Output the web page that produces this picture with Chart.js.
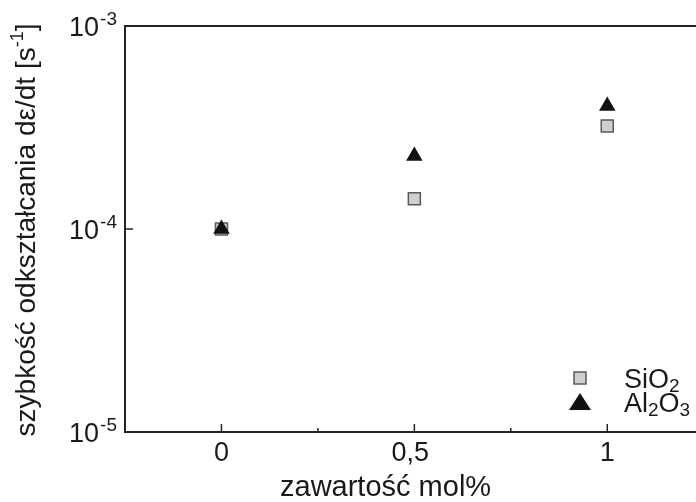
<!DOCTYPE html>
<html>
<head>
<meta charset="utf-8">
<script src="https://cdn.jsdelivr.net/npm/chart.js@4.4.1/dist/chart.umd.min.js"></script>
<style>
  html,body{margin:0;padding:0;background:#fff;overflow:hidden;}
  #wrap{width:696px;height:502px;position:relative;}
</style>
</head>
<body>
<div id="wrap"><canvas id="c" width="696" height="502"></canvas></div>
<script>
// ===== 資料 =====
const xVals = [0, 0.5, 1];
const sio2 = [1.0e-4, 1.41e-4, 3.22e-4];
const al2o3 = [1.0e-4, 2.29e-4, 4.04e-4];

const xTicks = [0, 0.5, 1];
const xTickLabels = ['0', '0,5', '1'];
const xMinor = [0.25, 0.75];
const yTicks = [1e-3, 1e-4, 1e-5];
const yTickExp = ['-3', '-4', '-5'];

const xTitle = 'zawartość mol%';
const yTitle = 'szybkość odkształcania dε/dt [s';
const seriesNames = [['SiO', '2'], ['Al', '2', 'O', '3']];

const FONT = '"Liberation Sans", Arial, sans-serif';
const INK = '#1a1a1a';

// ===== 座標軸與文字 =====
const axesPlugin = {
  id: 'axesPlugin',
  afterDraw(c) {
    const { ctx, chartArea: { left, right, top, bottom } } = c;
    const xs = c.scales.x, ys = c.scales.y;
    ctx.save();
    ctx.strokeStyle = '#222'; ctx.lineWidth = 2;
    ctx.beginPath();
    ctx.moveTo(right + 2, top); ctx.lineTo(left, top); ctx.lineTo(left, bottom); ctx.lineTo(right + 2, bottom);
    ctx.stroke();

    // x ticks (inward)
    ctx.lineWidth = 1.5;
    xTicks.forEach(v => { const px = xs.getPixelForValue(v); ctx.beginPath(); ctx.moveTo(px, bottom); ctx.lineTo(px, bottom - 8); ctx.stroke(); });
    xMinor.forEach(v => { const px = xs.getPixelForValue(v); ctx.beginPath(); ctx.moveTo(px, bottom); ctx.lineTo(px, bottom - 4); ctx.stroke(); });
    // y ticks (inward)
    yTicks.forEach(v => { const py = ys.getPixelForValue(v); ctx.beginPath(); ctx.moveTo(left, py); ctx.lineTo(left + 8, py); ctx.stroke(); });

    ctx.fillStyle = INK;
    // x labels
    ctx.font = '27px ' + FONT; ctx.textAlign = 'center'; ctx.textBaseline = 'alphabetic';
    xTicks.forEach((v, i) => ctx.fillText(xTickLabels[i], xs.getPixelForValue(v) - (i === 1 ? 4 : 0), bottom + 29));

    // y labels 10^n
    yTicks.forEach((v, i) => {
      const py = ys.getPixelForValue(v);
      ctx.font = '19px ' + FONT; ctx.textAlign = 'left';
      const supW = ctx.measureText(yTickExp[i]).width;
      const supX = left - 8 - supW;
      ctx.fillText(yTickExp[i], supX, py - 1);
      ctx.font = '27px ' + FONT; ctx.textAlign = 'right';
      ctx.fillText('10', supX - 1, py + 10);
    });

    // x title
    ctx.font = '29px ' + FONT; ctx.textAlign = 'left';
    ctx.fillText(xTitle, 280, 496);

    // y title (rotated)
    ctx.save();
    ctx.translate(35, 230);
    ctx.rotate(-Math.PI / 2);
    ctx.font = '28px ' + FONT;
    const w1 = ctx.measureText(yTitle).width;
    ctx.font = '18px ' + FONT;
    const w2 = ctx.measureText('-1').width;
    ctx.font = '28px ' + FONT;
    const w3 = ctx.measureText(']').width;
    let x0 = -(w1 + w2 + w3) / 2;
    ctx.textAlign = 'left';
    ctx.fillText(yTitle, x0, 0); x0 += w1;
    ctx.font = '18px ' + FONT; ctx.fillText('-1', x0, -12); x0 += w2;
    ctx.font = '28px ' + FONT; ctx.fillText(']', x0, 0);
    ctx.restore();

    // legend
    const lx = 580, ly = [378, 403];
    ctx.fillStyle = '#cfcfcf'; ctx.strokeStyle = '#5a5a5a'; ctx.lineWidth = 1.5;
    ctx.fillRect(lx - 6, ly[0] - 6, 12, 12); ctx.strokeRect(lx - 6, ly[0] - 6, 12, 12);
    ctx.fillStyle = '#111';
    ctx.beginPath(); ctx.moveTo(lx, ly[1] - 10); ctx.lineTo(lx + 11, ly[1] + 7); ctx.lineTo(lx - 11, ly[1] + 7); ctx.closePath(); ctx.fill();
    ctx.fillStyle = INK; ctx.textAlign = 'left';
    const base = [388, 412];
    seriesNames.forEach((parts, i) => {
      let tx = 624;
      parts.forEach((p, j) => {
        const sub = j % 2 === 1;
        ctx.font = (sub ? '19px ' : '27px ') + FONT;
        ctx.fillText(p, tx, sub ? base[i] + 4 : base[i]);
        tx += ctx.measureText(p).width;
      });
    });
    ctx.restore();
  }
};

new Chart(document.getElementById('c'), {
  type: 'scatter',
  data: {
    datasets: [
      { label: 'SiO2', order: 1, data: xVals.map((x, i) => ({ x, y: sio2[i] })), pointStyle: 'rect', pointRadius: 8.5,
        backgroundColor: '#cfcfcf', borderColor: '#5a5a5a', borderWidth: 1.5, clip: false },
      { label: 'Al2O3', order: 0, data: xVals.map((x, i) => ({ x, y: al2o3[i] })), pointStyle: 'triangle', pointRadius: 9.5,
        backgroundColor: '#111', borderColor: '#111', borderWidth: 0, clip: false }
    ]
  },
  options: {
    responsive: false, animation: false, devicePixelRatio: 1,
    layout: { autoPadding: false, padding: { left: 125, top: 26, right: 0, bottom: 70 } },
    plugins: { legend: { display: false }, tooltip: { enabled: false } },
    scales: {
      x: { type: 'linear', min: -0.25, max: 1.23, display: false },
      y: { type: 'logarithmic', min: 1e-5, max: 1e-3, display: false }
    }
  },
  plugins: [axesPlugin]
});
</script>
</body>
</html>
